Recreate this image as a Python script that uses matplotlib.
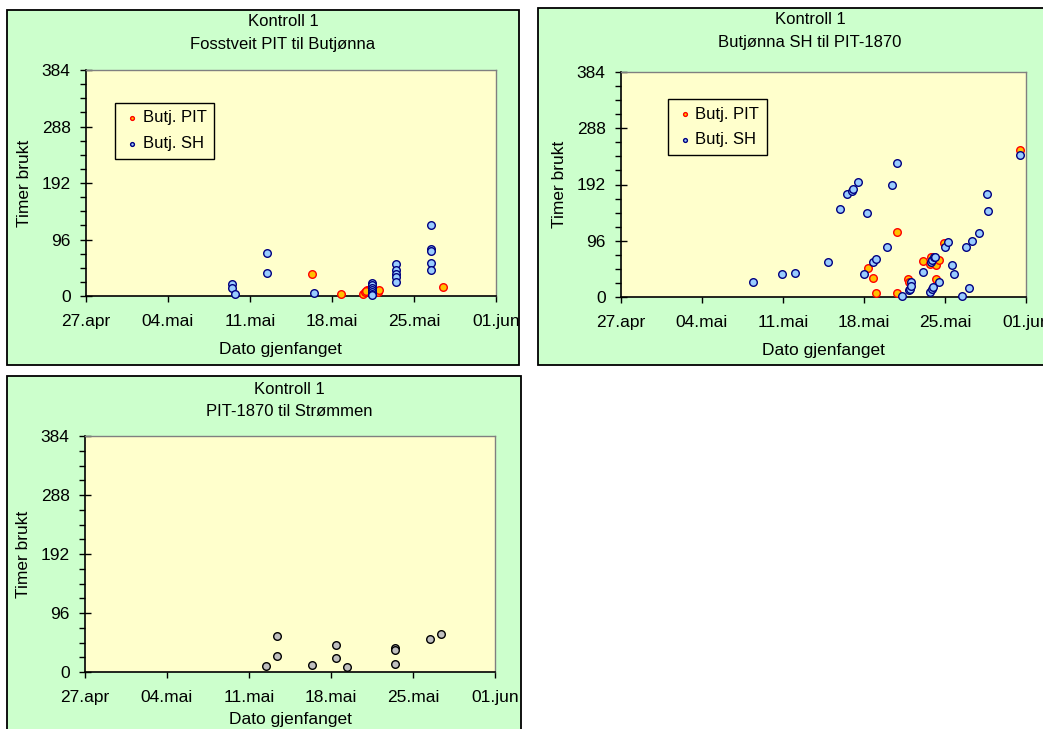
import numpy as np
import matplotlib
matplotlib.use('Agg')
from matplotlib import pyplot as plt
from matplotlib import dates as mdates
from matplotlib.patches import Rectangle

plt.rcParams['font.family'] = ['Liberation Sans', 'DejaVu Sans']

W, H = 1043, 729

# dager etter 27. april, timer brukt
p1_pit_dag = [19.33, 21.8, 23.67, 23.85, 24.0, 23.9, 24.9, 25.0, 30.46]
p1_pit_t = [37, 3, 3, 7, 11, 8, 6, 10, 15]
p1_sh_dag = [12.43, 12.43, 12.7, 15.47, 15.47, 19.47,
             24.4, 24.4, 24.4, 24.4, 24.4, 24.4, 24.4,
             26.45, 26.45, 26.45, 26.45, 26.45,
             29.46, 29.46, 29.46, 29.46, 29.46]
p1_sh_t = [21, 14, 3, 73, 39, 5,
           22, 18, 14, 10, 6, 3, 1,
           54, 44, 38, 33, 24,
           120, 80, 77, 56, 45]

p2_pit_dag = [21.38, 21.75, 22.07, 23.85, 23.85, 24.8, 24.86, 26.13, 26.77, 26.7,
              27.2, 27.2, 27.5, 27.9, 34.46]
p2_pit_t = [50, 33, 6, 111, 6, 30, 25, 61, 69, 56, 54, 30, 64, 92, 251]
p2_sh_dag = [11.38, 13.94, 15.0, 17.86, 18.9, 19.56, 19.97, 20.05, 20.5, 21.0,
             21.29, 21.75, 22.07, 23.0, 23.4, 23.85, 24.26, 24.86, 24.95, 25.1,
             25.1, 26.13, 26.7, 26.85, 27.0, 26.75, 26.9, 27.08, 27.15, 27.5,
             27.97, 28.26, 28.6, 28.75, 29.47, 29.85, 30.08, 30.34, 30.9, 31.66,
             31.75, 34.46]
p2_sh_t = [26, 39, 41, 60, 151, 176, 181, 185, 196, 39,
           143, 60, 65, 86, 192, 229, 2, 12.5, 14, 25,
           18, 43, 8.5, 14, 16.5, 60, 64, 68, 69, 26,
           86, 94, 54, 39, 1, 85, 16, 96, 109, 175,
           147, 242]

p3_dag = [15.45, 16.4, 16.4, 19.4, 21.46, 21.46, 22.4, 26.5, 26.5, 26.5, 29.45, 30.4]
p3_t = [10, 58, 26, 11, 44, 22, 8, 39, 36, 13, 53, 62]

x_labels = ['27.apr', '04.mai', '11.mai', '18.mai', '25.mai', '01.jun']
y_ticks = [0, 96, 192, 288, 384]
d0 = mdates.date2num(np.datetime64('2008-04-27'))
FS = 12.5


def fx(px):
    return px / W


def fy(py):
    return 1 - py / H


fig = plt.figure(figsize=(W / 100, H / 100), dpi=100)
fig.patch.set_facecolor('white')

# panel boxes (x0, y0, x1, y1) in pixels
boxes = [(7, 10, 519, 365), (538, 8, 1050, 365), (7, 376, 521, 735)]
for x0, y0, x1, y1 in boxes:
    fig.patches.append(Rectangle((fx(x0), fy(y1)), fx(x1 - x0), (y1 - y0) / H,
                                 transform=fig.transFigure, facecolor='#CCFFCC',
                                 edgecolor='black', linewidth=1.3, zorder=-5))


def make_axes(x0, y0, x1, y1):
    ax = fig.add_axes([fx(x0), fy(y1), fx(x1 - x0), (y1 - y0) / H])
    ax.set_facecolor('#FFFFCC')
    ax.set_xlim(d0, d0 + 35)
    ax.set_ylim(0, 384)
    ax.set_xticks([d0 + 7 * i for i in range(6)])
    ax.set_xticklabels(x_labels)
    ax.set_yticks(y_ticks)
    ax.set_yticks(np.arange(0, 385, 24), minor=True)
    ax.tick_params(axis='y', which='major', direction='inout', length=8, width=1,
                   labelsize=FS, pad=7)
    ax.tick_params(axis='y', which='minor', direction='out', length=4, width=1)
    ax.tick_params(axis='x', direction='out', length=4, width=1, labelsize=FS, pad=9)
    for s in ['top', 'right']:
        ax.spines[s].set_color('#808080')
        ax.spines[s].set_linewidth(1)
    for s in ['left', 'bottom']:
        ax.spines[s].set_linewidth(1.2)
    ax.set_ylabel('Timer brukt', fontsize=FS, labelpad=7)
    ax.set_xlabel('Dato gjenfanget', fontsize=FS, labelpad=9)
    return ax


def pit(ax, d, t):
    return ax.scatter(np.array(d) + d0, t, s=30, c='#FFC000', edgecolors='#FF0000',
                      linewidths=1.0, label='Butj. PIT', zorder=3, clip_on=False)


def sh(ax, d, t):
    return ax.scatter(np.array(d) + d0, t, s=30, c='#99CCFF', edgecolors='#000080',
                      linewidths=1.0, label='Butj. SH', zorder=3, clip_on=False)


def legend(ax, bx, by):
    lg = ax.legend(loc='upper left', bbox_to_anchor=(bx, by), fontsize=12,
                   markerscale=0.5, handletextpad=0.1, borderpad=0.45,
                   labelspacing=0.65, fancybox=False, framealpha=1,
                   edgecolor='black', facecolor='#FFFFCC', handlelength=1.1,
                   borderaxespad=0)
    lg.get_frame().set_linewidth(1)


ax1 = make_axes(86, 70, 496, 296)
pit(ax1, p1_pit_dag, p1_pit_t)
sh(ax1, p1_sh_dag, p1_sh_t)
legend(ax1, 0.071, 0.854)
ax1.xaxis.label.set_x(0.475)

ax2 = make_axes(621, 72, 1026, 297)
pit(ax2, p2_pit_dag, p2_pit_t)
sh(ax2, p2_sh_dag, p2_sh_t)
legend(ax2, 0.116, 0.88)

ax3 = make_axes(85, 436, 495, 672)
ax3.scatter(np.array(p3_dag) + d0, p3_t, s=30, c='#C0C0C0', edgecolors='black',
            linewidths=1.0, zorder=3, clip_on=False)
ax3.xaxis.labelpad = 5

titles = [(283, 'Fosstveit PIT til Butjønna', 22, 45),
          (810, 'Butjønna SH til PIT-1870', 20, 43),
          (289, 'PIT-1870 til Strømmen', 389, 411)]
for cx, sub, y1, y2 in titles:
    fig.text(fx(cx), fy(y1), 'Kontroll 1', ha='center', va='center', fontsize=12)
    fig.text(fx(cx), fy(y2), sub, ha='center', va='center', fontsize=12)

fig.savefig('out.png', dpi=100)
